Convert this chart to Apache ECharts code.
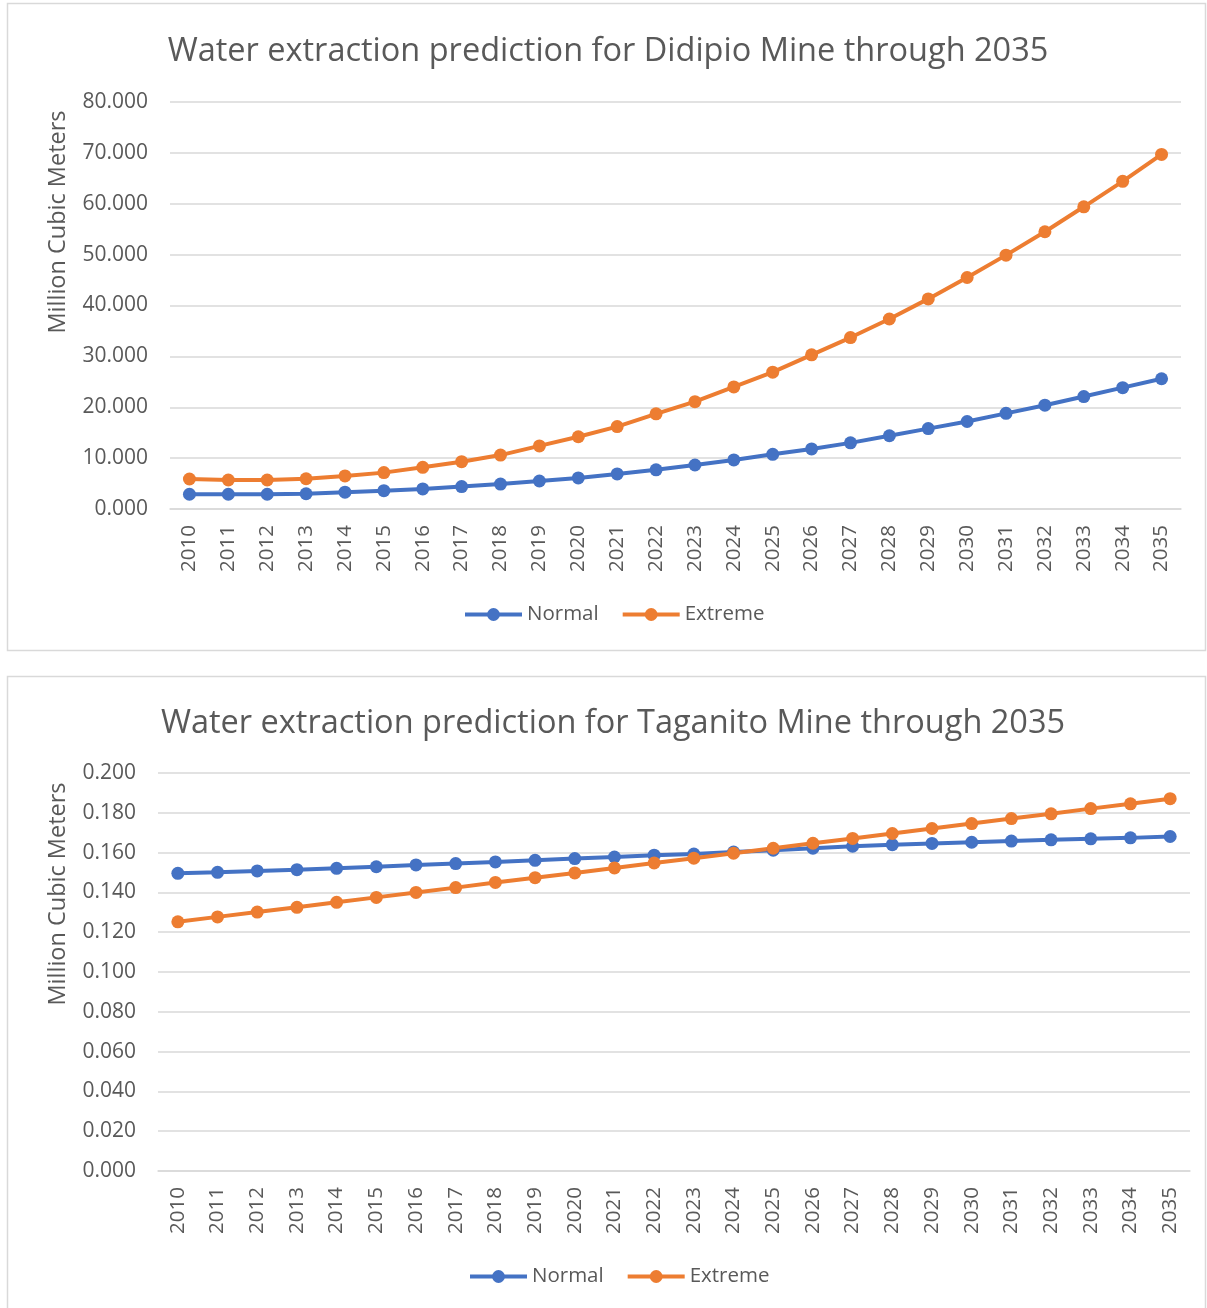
<!DOCTYPE html>
<html>
<head>
<meta charset="utf-8">
<script src="https://cdn.jsdelivr.net/npm/echarts@6/dist/echarts.min.js"></script>
<style>
html,body{margin:0;padding:0;background:#fff;}
#c{width:1207px;height:1308px;}
</style>
</head>
<body>
<div id="c"></div>
<script>
const years = ['2010','2011','2012','2013','2014','2015','2016','2017','2018','2019','2020','2021','2022','2023','2024','2025','2026','2027','2028','2029','2030','2031','2032','2033','2034','2035'];
const didipioNormal = [2.9, 2.9, 2.9, 3.0, 3.3, 3.6, 3.95, 4.4, 4.9, 5.5, 6.1, 6.9, 7.7, 8.65, 9.65, 10.75, 11.8, 13.0, 14.4, 15.8, 17.2, 18.8, 20.4, 22.1, 23.85, 25.6];
const didipioExtreme = [5.9, 5.7, 5.7, 5.95, 6.5, 7.15, 8.2, 9.3, 10.6, 12.4, 14.2, 16.2, 18.7, 21.1, 24.0, 26.9, 30.3, 33.7, 37.35, 41.3, 45.5, 49.9, 54.5, 59.4, 64.4, 69.7];
const taganitoNormal = [0.1496, 0.1501, 0.1508, 0.1514, 0.1521, 0.1529, 0.1538, 0.1545, 0.1553, 0.1561, 0.1570, 0.1578, 0.1587, 0.1593, 0.1603, 0.1612, 0.1622, 0.1632, 0.1640, 0.1646, 0.1652, 0.1658, 0.1664, 0.1669, 0.1674, 0.1681];
const taganitoExtreme = [0.1252, 0.1277, 0.1301, 0.1325, 0.1350, 0.1375, 0.1400, 0.1424, 0.1450, 0.1474, 0.1498, 0.1523, 0.1548, 0.1572, 0.1597, 0.1622, 0.1647, 0.1671, 0.1696, 0.1721, 0.1746, 0.1771, 0.1795, 0.1821, 0.1845, 0.1871];
const titles = ['Water extraction prediction for Didipio Mine through 2035', 'Water extraction prediction for Taganito Mine through 2035'];
const seriesNames = ['Normal', 'Extreme'];
const axisTitle = 'Million Cubic Meters';

const FONT = '"Open Sans", "Noto Sans", sans-serif';
const TXT = '#595959';
const GRID = '#d9d9d9';
const BLUE = '#4472C4';
const ORANGE = '#ED7D31';

function xAxis(gi) {
  return {
    type: 'category', gridIndex: gi, data: years, boundaryGap: true,
    axisLine: {show: true, lineStyle: {color: GRID, width: 1.5}},
    axisTick: {show: false},
    axisLabel: {rotate: 90, margin: 16, color: TXT, fontFamily: FONT, fontSize: 20.5}
  };
}
function yAxis(gi, max, interval) {
  return {
    type: 'value', gridIndex: gi, min: 0, max: max, interval: interval,
    axisLine: {show: false}, axisTick: {show: false},
    splitLine: {lineStyle: {color: GRID, width: 1.5}},
    axisLabel: {margin: 22, color: TXT, fontFamily: FONT, fontSize: 21,
      formatter: v => v.toFixed(3)}
  };
}
function line(name, data, color, gi) {
  return {
    name: name, type: 'line', xAxisIndex: gi, yAxisIndex: gi, data: data,
    symbol: 'circle', symbolSize: 13, showSymbol: true,
    lineStyle: {color: color, width: 4}, itemStyle: {color: color},
    emphasis: {disabled: true}, animation: false
  };
}
function legend(left, top) {
  return {data: seriesNames, left: left, top: top, padding: 0, itemWidth: 57, itemHeight: 16, itemGap: 22,
    lineStyle: {width: 4}, textStyle: {color: TXT, fontFamily: FONT, fontSize: 20.5}};
}
const chart = echarts.init(document.getElementById('c'));
chart.setOption({
  backgroundColor: '#fff',
  animation: false,
  title: [
    {text: titles[0], left: 603, top: 47, textAlign: 'center', textVerticalAlign: 'middle',
     textStyle: {color: TXT, fontFamily: FONT, fontSize: 32.5, fontWeight: 'normal'}},
    {text: titles[1], left: 608, top: 719, textAlign: 'center', textVerticalAlign: 'middle',
     textStyle: {color: TXT, fontFamily: FONT, fontSize: 32.5, fontWeight: 'normal'}}
  ],
  legend: [legend(463, 604), legend(468, 1266)],
  grid: [
    {left: 170, top: 102, width: 1011, height: 407},
    {left: 158, top: 773, width: 1032, height: 398}
  ],
  xAxis: [xAxis(0), xAxis(1)],
  yAxis: [yAxis(0, 80, 10), yAxis(1, 0.2, 0.02)],
  series: [
    line(seriesNames[0], didipioNormal, BLUE, 0),
    line(seriesNames[1], didipioExtreme, ORANGE, 0),
    line(seriesNames[0], taganitoNormal, BLUE, 1),
    line(seriesNames[1], taganitoExtreme, ORANGE, 1)
  ],
  graphic: [
    {type: 'rect', shape: {x: 7.5, y: 3.5, width: 1198, height: 647}, style: {fill: 'none', stroke: GRID, lineWidth: 1.5}, silent: true},
    {type: 'rect', shape: {x: 7.5, y: 676.5, width: 1198, height: 640}, style: {fill: 'none', stroke: GRID, lineWidth: 1.5}, silent: true},
    {type: 'text', x: 58.5, y: 222, rotation: Math.PI / 2,
     style: {text: axisTitle, fill: TXT, font: '23.5px ' + FONT, textAlign: 'center', textVerticalAlign: 'middle'}},
    {type: 'text', x: 58.5, y: 894, rotation: Math.PI / 2,
     style: {text: axisTitle, fill: TXT, font: '23.5px ' + FONT, textAlign: 'center', textVerticalAlign: 'middle'}}
  ]
});
</script>
</body>
</html>
